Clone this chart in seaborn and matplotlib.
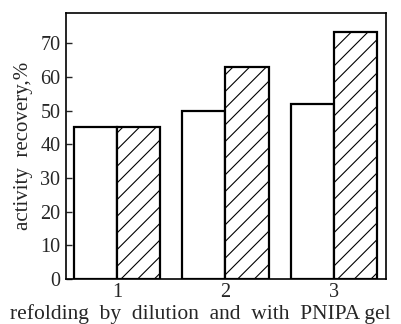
import matplotlib
matplotlib.use("Agg")
import matplotlib.pyplot as plt
import seaborn as sns
import pandas as pd

# Activity recovery (%) for each refolding condition
conditions = ["1", "2", "3"]
by_dilution = [45, 50, 52]
with_pnipa_gel = [45, 63, 73.5]
methods = ["dilution", "PNIPA gel"]

df = pd.DataFrame({
    "condition": conditions * 2,
    "recovery": by_dilution + with_pnipa_gel,
    "method": [methods[0]] * 3 + [methods[1]] * 3,
})

sns.set_theme(style="ticks")
plt.rcParams["font.family"] = ["Liberation Serif", "DejaVu Serif"]
plt.rcParams["hatch.linewidth"] = 0.8

fig = plt.figure(figsize=(4.01, 3.24), dpi=100)
ax = fig.add_axes([0.1646, 0.1389, 0.798, 0.821])

sns.barplot(data=df, x="condition", y="recovery", hue="method",
            palette=["white", "white"], edgecolor="black", linewidth=1.6,
            width=0.8, legend=False, ax=ax)

for patch in ax.patches[3:6]:
    patch.set_hatch("//")

ax.set_ylim(0, 79)
ax.set_xlim(-0.47, 2.48)
ax.set_yticks([0, 10, 20, 30, 40, 50, 60, 70])
ax.tick_params(axis="y", direction="in", length=4, width=1, labelsize=14.5, pad=4)
ax.tick_params(axis="x", length=0, labelsize=14.5, pad=3)
for s in ax.spines.values():
    s.set_linewidth(1.2)
    s.set_color("black")

ax.set_xlabel("")
ax.set_ylabel("activity  recovery,%", fontsize=15, labelpad=5)
fig.text(0.5, 0.0, "refolding  by  dilution  and  with  PNIPA gel",
         ha="center", va="bottom", fontsize=15.5)

fig.savefig("out.png", dpi=100, facecolor="white")
